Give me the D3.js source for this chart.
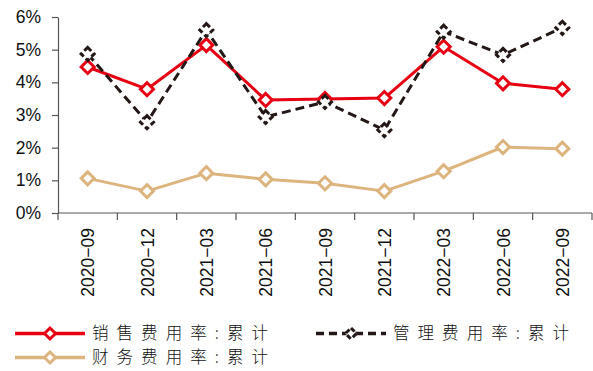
<!DOCTYPE html>
<html>
<head>
<meta charset="utf-8">
<script src="https://cdn.jsdelivr.net/npm/d3@7/dist/d3.min.js"></script>
<style>
  html, body { margin: 0; padding: 0; background: #fff; }
  svg { display: block; }
</style>
</head>
<body>
<svg id="chart" width="593" height="371"></svg>
<script>
// Quarterly cumulative expense ratios (%)
const categories = ["2020-09", "2020-12", "2021-03", "2021-06", "2021-09", "2021-12", "2022-03", "2022-06", "2022-09"];
const salesRate   = [4.47, 3.79, 5.14, 3.46, 3.49, 3.52, 5.09, 3.97, 3.79];
const adminRate   = [4.87, 2.78, 5.60, 2.94, 3.40, 2.54, 5.55, 4.84, 5.67];
const financeRate = [1.06, 0.67, 1.22, 1.03, 0.91, 0.67, 1.28, 2.02, 1.97];
const yTicks = [0, 1, 2, 3, 4, 5, 6];
const seriesNames = ["销售费用率:累计", "管理费用率:累计", "财务费用率:累计"];

const svg = d3.select("#chart");
const margin = { left: 58, right: 1, top: 17, bottom: 158 };
const W = 593, H = 371;

const x = d3.scaleBand().domain(categories).range([margin.left, W - margin.right]).paddingInner(0).paddingOuter(0);
const y = d3.scaleLinear().domain([0, 6]).range([H - margin.bottom, margin.top]);
const cx = c => x(c) + x.bandwidth() / 2;

const axisColor = "#555";

// y axis
const yAxis = svg.append("g")
  .attr("transform", `translate(${margin.left},0)`)
  .call(d3.axisLeft(y).tickValues(yTicks).tickFormat(d => d + "%").tickSize(6).tickSizeOuter(0));
yAxis.select(".domain").attr("stroke", axisColor).attr("stroke-width", 1.2);
yAxis.selectAll(".tick line").attr("stroke", axisColor).attr("stroke-width", 1.2);
yAxis.selectAll(".tick text")
  .attr("x", -17)
  .attr("font-family", "Liberation Sans, Arial, sans-serif")
  .attr("font-size", 17.5)
  .attr("fill", "#111");

// x axis: baseline, category boundary ticks, rotated labels
const x0 = y(0);
svg.append("line")
  .attr("x1", margin.left).attr("x2", W - margin.right)
  .attr("y1", x0).attr("y2", x0)
  .attr("stroke", axisColor).attr("stroke-width", 1.2);
const bounds = categories.map(c => x(c)).concat([x(categories[categories.length - 1]) + x.bandwidth()]);
svg.selectAll("line.xtick").data(bounds).join("line")
  .attr("class", "xtick")
  .attr("x1", d => d).attr("x2", d => d)
  .attr("y1", x0).attr("y2", x0 + 7)
  .attr("stroke", axisColor).attr("stroke-width", 1.2);
svg.selectAll("text.xlab").data(categories).join("text")
  .attr("class", "xlab")
  .attr("transform", d => `translate(${cx(d) + 6.5},${x0 + 15}) rotate(-90)`)
  .attr("text-anchor", "end")
  .attr("font-family", "Liberation Sans, Arial, sans-serif")
  .attr("font-size", 17.5)
  .attr("fill", "#111")
  .text(d => d.replace("-", "\u2212"));

const line = d3.line().x((d, i) => cx(categories[i])).y(d => y(d));
const diamond = r => `M0,${-r}L${r},0L0,${r}L${-r},0Z`;

function drawSeries(values, color, dash) {
  const g = svg.append("g");
  g.append("path")
    .datum(values)
    .attr("d", line)
    .attr("fill", "none")
    .attr("stroke", color)
    .attr("stroke-width", 3)
    .attr("stroke-dasharray", dash || null)
    .attr("stroke-linejoin", "round");
  g.selectAll("path.mk").data(values).join("path")
    .attr("class", "mk")
    .attr("transform", (d, i) => `translate(${cx(categories[i])},${y(d)})`)
    .attr("d", diamond(6.5))
    .attr("fill", "#fff")
    .attr("stroke", color)
    .attr("stroke-width", 3)
    .attr("stroke-dasharray", dash ? "5,3" : null);
}

const red = "#e60012", tan = "#dcb47e", dark = "#231815";
drawSeries(financeRate, tan);
drawSeries(salesRate, red);
drawSeries(adminRate, dark, "9,5");

// legend
function legendItem(lx, ly, len, color, dash, label) {
  const g = svg.append("g").attr("transform", `translate(${lx},${ly})`);
  g.append("line").attr("x1", 0).attr("x2", len).attr("y1", 0).attr("y2", 0)
    .attr("stroke", color).attr("stroke-width", 3.5)
    .attr("stroke-dasharray", dash || null);
  g.append("path").attr("transform", `translate(${len / 2},0)`)
    .attr("d", diamond(5.5))
    .attr("fill", "#fff").attr("stroke", color).attr("stroke-width", 3)
    .attr("stroke-dasharray", dash ? "5,3" : null);
  g.append("text")
    .attr("x", len + 7).attr("y", 5.5)
    .attr("font-family", "Noto Sans CJK SC, sans-serif")
    .attr("font-size", 16.5)
    .attr("font-weight", 300)
    .attr("textLength", 176)
    .attr("lengthAdjust", "spacing")
    .attr("fill", "#111")
    .text(label);
}
legendItem(15, 333.5, 70, red, null, seriesNames[0]);
legendItem(316, 333.5, 70, dark, "8,5", seriesNames[1]);
legendItem(15, 357.5, 70, tan, null, seriesNames[2]);
</script>
</body>
</html>
